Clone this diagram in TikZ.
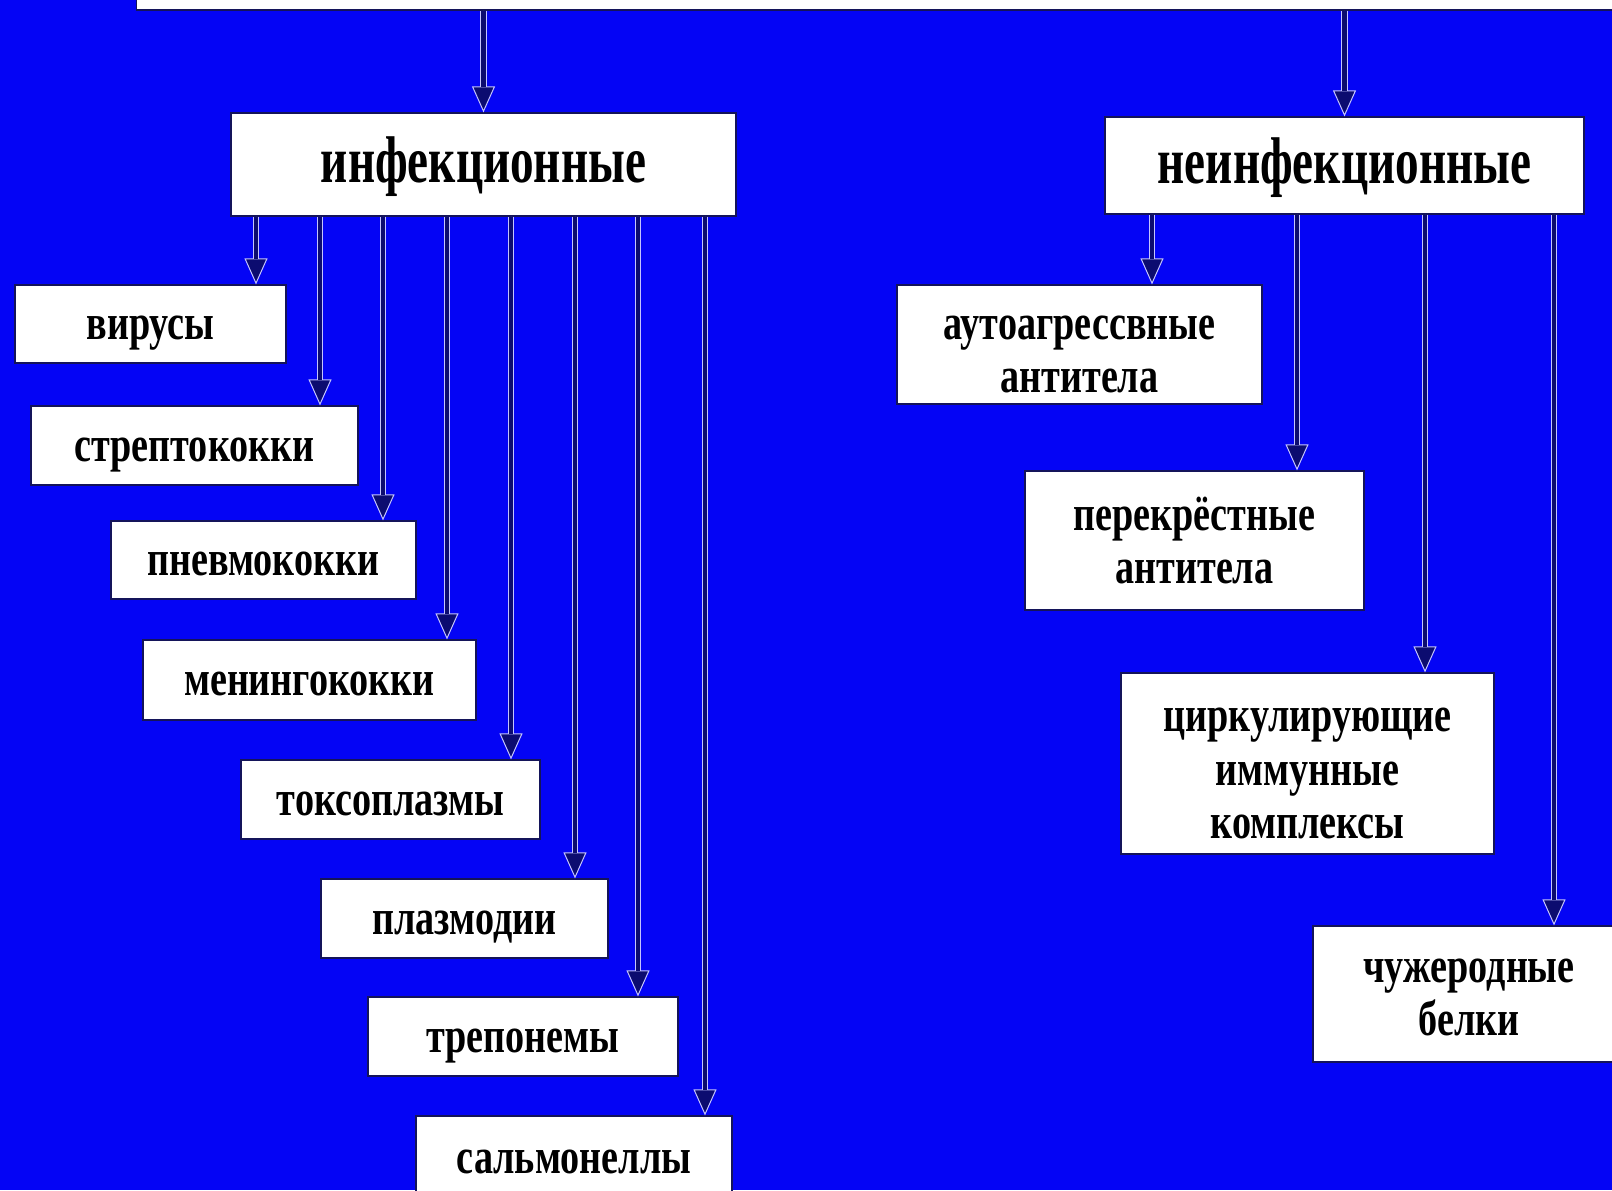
\documentclass[tikz,border=0pt]{standalone}
\usepackage{fontspec}
\setmainfont{Liberation Serif}[FakeStretch=0.763]
\newfontfamily\headfont{Liberation Serif}[FakeStretch=0.715]
\usetikzlibrary{%
	arrows.meta,%
	positioning,%
}
\definecolor{cbg}{RGB}{4, 4, 245}
\definecolor{cshaft}{RGB}{12, 12, 112}
\definecolor{cedge}{RGB}{196, 196, 255}
\definecolor{cframe}{RGB}{20, 20, 90}
\newcommand{\firstline}[1]{\rule{0pt}{#1}}
\tikzset{
	box/.style={%
			draw=cframe,%
			line width=0.6pt,%
			fill=white,%
			rectangle,%
			inner sep=0,%
			align=center,%
			font={\fontsize{25}{26.7}\selectfont\bfseries}},%
	oneline/.style={%
			text height=15.5pt,%
			text depth=0pt},%
	groupbox/.style={%
			box,%
			text height=18.1pt,%
			text depth=0pt,%
			font={\headfont\fontsize{33}{36}\selectfont\bfseries}},%
	flow/.style={%
			draw=cedge,%
			line width=0.5pt,%
			-{Triangle[length=13pt, width=11.5pt, fill=cshaft]},%
			postaction={draw=cedge, double=cshaft, double distance=2.2pt, -, shorten >=12.8pt}},%
}

\begin{document}
\begin{tikzpicture}[x=0.5pt, y=-0.5pt]
	\useasboundingbox (0,0) rectangle (1612,1190);
	\clip (0,0) rectangle (1612,1190);
	\fill[cbg] (0,0) rectangle (1612,1190);

	\node[box, minimum width=751.5pt, minimum height=30pt] (head) at (888,-20) {};

	\node[groupbox, minimum width=252.5pt, minimum height=51.5pt] (inf) at (483.5,164.5) {инфекционные};
	\node[groupbox, minimum width=239.5pt, minimum height=48.5pt] (noninf) at (1344.5,165.5) {неинфекционные};

	% infectious agents
	\node[box, oneline, minimum width=135.5pt, minimum height=39pt] (vir) at (150.5,324) {вирусы};
	\node[box, oneline, minimum width=163.5pt, minimum height=39.5pt] (strep) at (194.5,445.5) {стрептококки};
	\node[box, oneline, minimum width=152.5pt, minimum height=39pt] (pneumo) at (263.5,560) {пневмококки};
	\node[box, oneline, minimum width=166.5pt, minimum height=40pt] (mening) at (309.5,680) {менингококки};
	\node[box, oneline, minimum width=149.5pt, minimum height=39.5pt] (toxo) at (390.5,799.5) {токсоплазмы};
	\node[box, oneline, minimum width=143.5pt, minimum height=39.5pt] (plasmo) at (464.5,918.5) {плазмодии};
	\node[box, oneline, minimum width=155pt, minimum height=39.5pt] (trepo) at (523,1036.5) {трепонемы};
	\node[box, oneline, minimum width=158pt, minimum height=42pt] (salmo) at (574,1158) {сальмонеллы};

	% non-infectious agents
	\node[box, minimum width=182.5pt, minimum height=59.5pt] (autoab) at (1079.5,344.5) {\firstline{22pt}аутоагрессвные\\антитела};
	\node[box, minimum width=169.5pt, minimum height=69.5pt] (crossab) at (1194.5,540.5) {перекрёстные\\антитела};
	\node[box, minimum width=186.5pt, minimum height=90.5pt] (immcx) at (1307.5,763.5) {\firstline{22pt}циркулирующие\\иммунные\\комплексы};
	\node[box, minimum width=156pt, minimum height=68pt] (forprot) at (1469,994) {\firstline{15.3pt}чужеродные\\белки};

	\coordinate (l1) at (256,0);
	\coordinate (l2) at (320,0);
	\coordinate (l3) at (383,0);
	\coordinate (l4) at (447,0);
	\coordinate (l5) at (511,0);
	\coordinate (l6) at (575,0);
	\coordinate (l7) at (638,0);
	\coordinate (l8) at (705,0);
	\coordinate (r1) at (1152,0);
	\coordinate (r2) at (1297,0);
	\coordinate (r3) at (1425,0);
	\coordinate (r4) at (1554,0);

	\draw[flow] (head.south -| inf) -- (inf.north);
	\draw[flow] (head.south -| noninf) -- (noninf.north);

	\draw[flow] (inf.south -| l1) -- (vir.north -| l1);
	\draw[flow] (inf.south -| l2) -- (strep.north -| l2);
	\draw[flow] (inf.south -| l3) -- (pneumo.north -| l3);
	\draw[flow] (inf.south -| l4) -- (mening.north -| l4);
	\draw[flow] (inf.south -| l5) -- (toxo.north -| l5);
	\draw[flow] (inf.south -| l6) -- (plasmo.north -| l6);
	\draw[flow] (inf.south -| l7) -- (trepo.north -| l7);
	\draw[flow] (inf.south -| l8) -- (salmo.north -| l8);

	\draw[flow] (noninf.south -| r1) -- (autoab.north -| r1);
	\draw[flow] (noninf.south -| r2) -- (crossab.north -| r2);
	\draw[flow] (noninf.south -| r3) -- (immcx.north -| r3);
	\draw[flow] (noninf.south -| r4) -- (forprot.north -| r4);
\end{tikzpicture}
\end{document}
